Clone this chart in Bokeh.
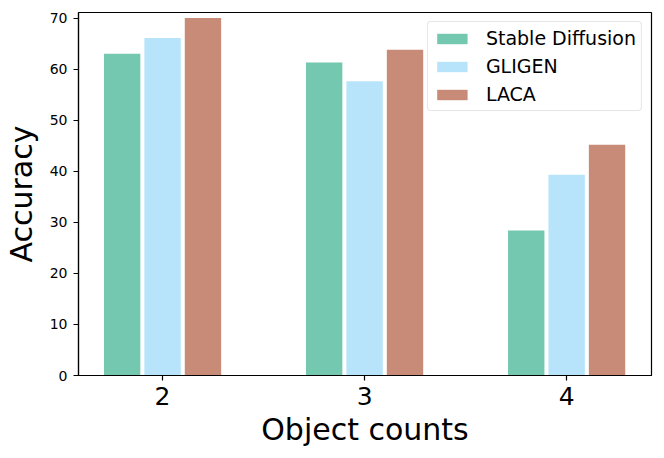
from bokeh.plotting import figure
from bokeh.models import ColumnDataSource, Range1d, FixedTicker, Legend, LegendItem
from bokeh.embed import file_html
from bokeh.resources import INLINE

counts = [2, 3, 4]
tick_labels = ["2", "3", "4"]
series_names = ["Stable Diffusion", "GLIGEN", "LACA"]
stable_diffusion = [63.0, 61.3, 28.4]
gligen = [66.1, 57.6, 39.3]
laca = [70.0, 63.8, 45.2]
colors = ["#74C8B0", "#B7E4FA", "#C88B77"]

FONT = "DejaVu Sans"

p = figure(
    width=648, height=442,
    frame_width=573, frame_height=363,
    x_range=Range1d(1.584, 4.42), y_range=Range1d(0, 71.08),
    output_backend="svg", toolbar_location=None,
    min_border_left=71, min_border_right=4, min_border_top=12, min_border_bottom=67,
)
p.background_fill_color = "white"
p.border_fill_color = "white"
p.outline_line_color = "black"
p.outline_line_width = 1.2
p.xgrid.visible = False
p.ygrid.visible = False

offsets = [-0.2, 0.0, 0.2]
renderers = []
for name, vals, col, off in zip(series_names, [stable_diffusion, gligen, laca], colors, offsets):
    src = ColumnDataSource(dict(x=[c + off for c in counts], top=vals))
    r = p.vbar(x="x", top="top", width=0.18, bottom=0, source=src,
               fill_color=col, line_color=None)
    renderers.append((name, r))

p.xaxis.ticker = FixedTicker(ticks=counts)
p.xaxis.major_label_overrides = {c: t for c, t in zip(counts, tick_labels)}
p.yaxis.ticker = FixedTicker(ticks=[0, 10, 20, 30, 40, 50, 60, 70])

for ax in (p.xaxis[0], p.yaxis[0]):
    ax.axis_line_color = "black"
    ax.axis_line_width = 1.2
    ax.major_tick_line_color = "black"
    ax.major_tick_line_width = 1.2
    ax.major_tick_out = 5
    ax.major_tick_in = 0
    ax.minor_tick_line_color = None
    ax.major_label_text_font = FONT
    ax.major_label_text_color = "black"
    ax.axis_label_text_font = FONT
    ax.axis_label_text_font_style = "normal"
    ax.axis_label_text_color = "black"
    ax.axis_label_text_font_size = "30px"

p.xaxis.axis_label = "Object counts"
p.yaxis.axis_label = "Accuracy"
p.xaxis.major_label_text_font_size = "25px"
p.yaxis.major_label_text_font_size = "14px"
p.xaxis.major_label_standoff = 6
p.yaxis.major_label_standoff = 6
p.xaxis.axis_label_standoff = 4
p.yaxis.axis_label_standoff = 8

legend = Legend(
    items=[LegendItem(label=n, renderers=[r]) for n, r in renderers],
    location="top_right",
    margin=9,
    padding=5,
    spacing=6,
    glyph_width=38,
    glyph_height=13,
    label_standoff=15,
    label_height=21,
    label_text_font=FONT,
    label_text_font_size="19px",
    label_text_color="black",
    border_line_color="#cccccc",
    border_line_width=1,
    border_radius=4,
    background_fill_color="white",
    background_fill_alpha=0.8,
)
p.add_layout(legend, "center")

open("out.html", "w").write(file_html(p, INLINE))
